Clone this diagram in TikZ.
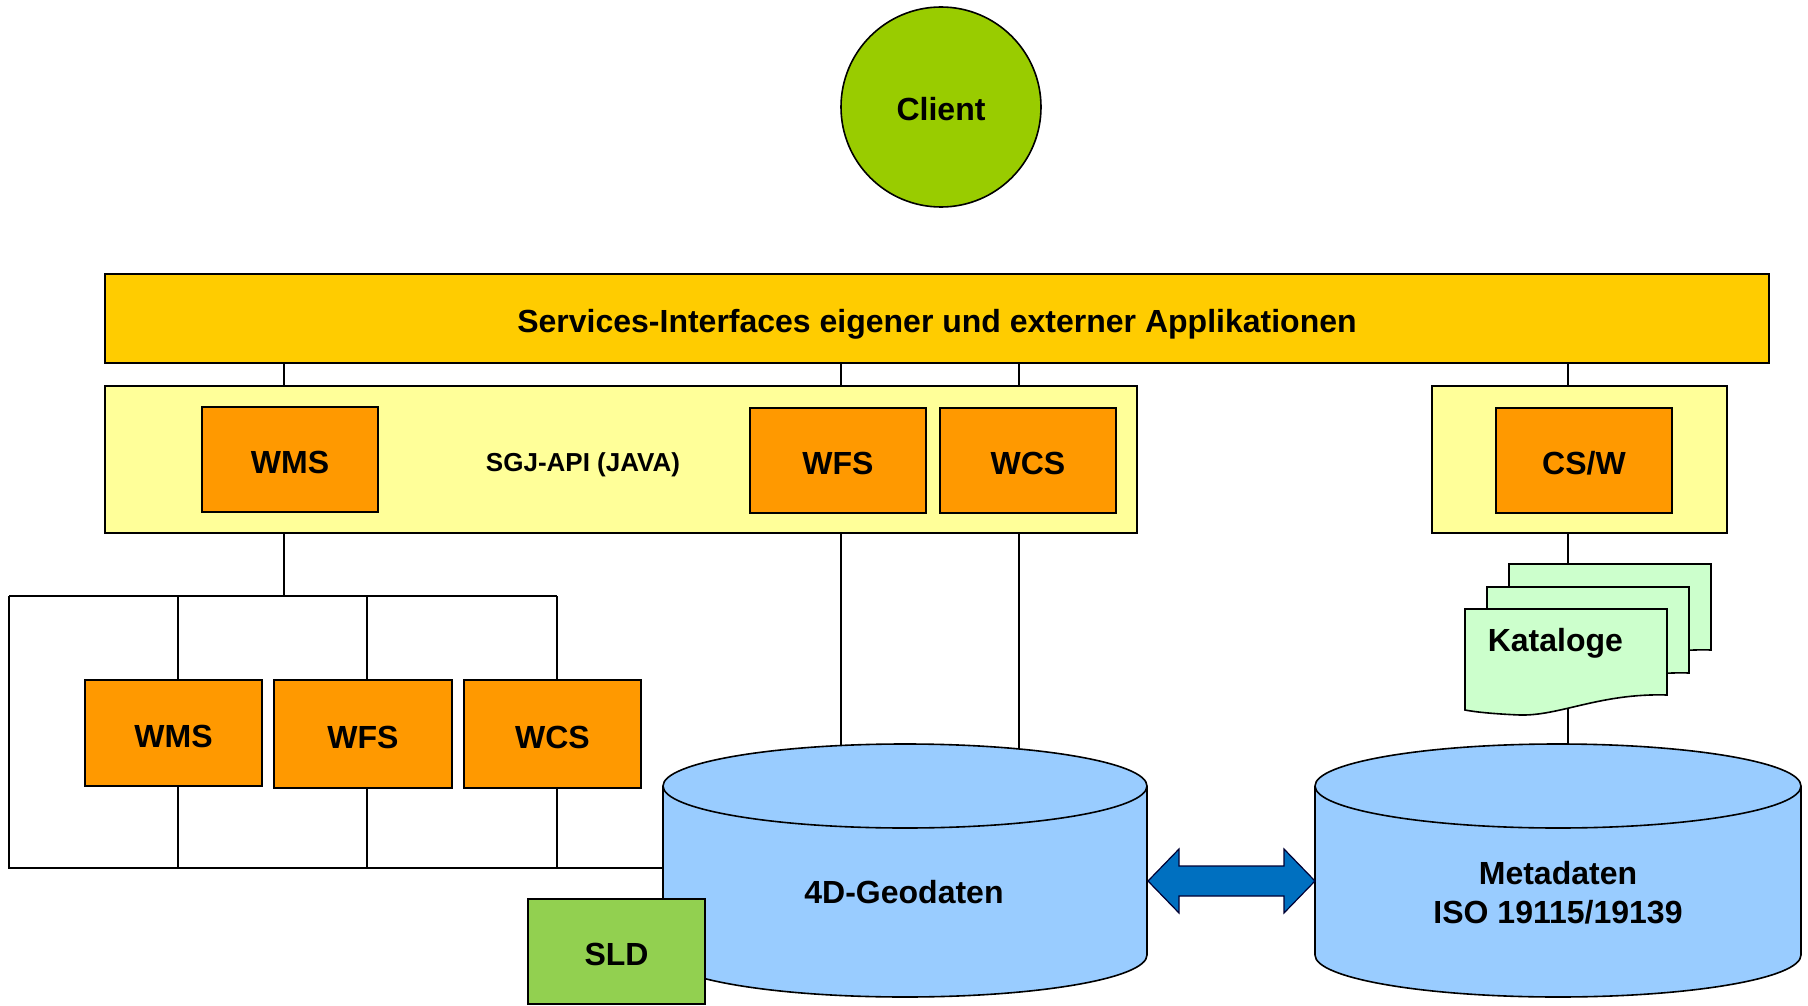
\documentclass[tikz,border=0pt]{standalone}
\usepackage{fontspec}
\setmainfont{Liberation Sans}
\usetikzlibrary{calc}
\definecolor{barcol}{HTML}{FFCC00}
\definecolor{apicol}{HTML}{FFFF99}
\definecolor{orcol}{HTML}{FF9900}
\definecolor{clientcol}{HTML}{99CC00}
\definecolor{cylcol}{HTML}{99CCFF}
\definecolor{sldcol}{HTML}{92D050}
\definecolor{katcol}{HTML}{CCFFCC}
\definecolor{arrcol}{HTML}{0070C0}
\begin{document}
\begin{tikzpicture}[x=1pt,y=-1pt,line width=1.6pt,
  box/.style={draw=black,rectangle,inner sep=0pt,text height=28pt,text depth=0pt,
    font=\fontsize{32}{38}\bfseries\selectfont},
  svc/.style={box,fill=orcol,minimum width=176pt,minimum height=105pt},
  cyl/.style={fill=cylcol},
  doc/.style={draw=black,fill=katcol},
  lbl/.style={inner sep=0pt,align=center,font=\fontsize{32}{39}\bfseries\selectfont}]
\useasboundingbox (0,0) rectangle (1808,1006);

% client
\node[circle,draw=black,fill=clientcol,minimum size=200pt,inner sep=0pt,
  text height=28pt,text depth=0pt,
  font=\fontsize{32}{38}\bfseries\selectfont] (client) at (941,107) {Client};

% top bar
\node[box,fill=barcol,minimum width=1664pt,minimum height=89pt] (bar) at (937,318.5)
  {Services-Interfaces eigener und externer Applikationen};

% API box
\node[box,fill=apicol,minimum width=1032pt,minimum height=147pt] (sgj) at (621,459.5) {};
\node[lbl,font=\fontsize{26}{30}\bfseries\selectfont] (sgjlbl) at (583,464.5) {SGJ-API (JAVA)};
\node[svc] (wms1) at (290,459.5) {WMS};
\node[svc] (wfs1) at (838,460.5) {WFS};
\node[svc] (wcs1) at (1028,460.5) {WCS};

% CS/W box
\node[box,fill=apicol,minimum width=295pt,minimum height=147pt] (cswo) at (1579.5,459.5) {};
\node[svc] (csw) at (1584,460.5) {CS/W};

% lower services
\node[svc,minimum width=177pt,minimum height=106pt] (wms2) at (173.5,733) {WMS};
\node[svc,minimum width=178pt,minimum height=108pt] (wfs2) at (363,734) {WFS};
\node[svc,minimum width=177pt,minimum height=108pt] (wcs2) at (552.5,734) {WCS};

% column coordinates
\coordinate (xa) at (284,0);
\coordinate (xb) at (841,0);
\coordinate (xc) at (1019,0);
\coordinate (xd) at (1568,0);
\coordinate (t1) at (178,0);
\coordinate (t2) at (367,0);
\coordinate (t3) at (557,0);
\coordinate (treeL) at (9,596);
\coordinate (treeR) at (557,596);
\coordinate (botL) at (9,868);
\coordinate (geoW) at (663,868);
\coordinate (geoTopB) at (841,745.5);
\coordinate (geoTopC) at (1019,749);
\coordinate (metaTop) at (1568,745);
\coordinate (katTop) at (1568,564);
\coordinate (katBot) at (1568,708);

% connectors bar -> boxes
\draw (xa |- bar.south) -- (xa |- sgj.north);
\draw (xb |- bar.south) -- (xb |- sgj.north);
\draw (xc |- bar.south) -- (xc |- sgj.north);
\draw (xd |- bar.south) -- (xd |- cswo.north);

% tree
\draw (xa |- sgj.south) -- (xa |- treeL);
\draw (treeL) -- (treeR);
\draw (treeL) -- (botL) -- (geoW);
\draw (t1 |- treeL) -- (t1 |- wms2.north);
\draw (t2 |- treeL) -- (t2 |- wfs2.north);
\draw (t3 |- treeL) -- (t3 |- wcs2.north);
\draw (t1 |- wms2.south) -- (t1 |- botL);
\draw (t2 |- wfs2.south) -- (t2 |- botL);
\draw (t3 |- wcs2.south) -- (t3 |- botL);

% to cylinder
\draw (xb |- sgj.south) -- (geoTopB);
\draw (xc |- sgj.south) -- (geoTopC);

% Kataloge connectors
\draw (xd |- cswo.south) -- (katTop);
\draw (katBot) -- (metaTop);

% Kataloge documents
\foreach \dx/\dy in {44/-45,22/-22,0/0}{
  \begin{scope}[shift={(\dx,\dy)}]
  \draw[doc] (1465,609) -- (1667,609) -- (1667,695)
    .. controls (1600,693) and (1560,716) .. (1520,715)
    .. controls (1495,714) and (1475,712) .. (1465,710) -- cycle;
  \end{scope}
}
\node[lbl,anchor=west] (kat) at (1487,643.5) {Kataloge};

% 4D cylinder
\filldraw[cyl] (905,955) ellipse[x radius=242,y radius=42];
\fill[cyl] (663,786) rectangle (1147,955);
\draw (663,786) -- (663,955);
\draw (1147,786) -- (1147,955);
\filldraw[cyl] (905,786) ellipse[x radius=242,y radius=42];
\node[lbl] (geo) at (904,892) {4D-Geodaten};

% Metadaten cylinder
\filldraw[cyl] (1558,955) ellipse[x radius=243,y radius=42];
\fill[cyl] (1315,786) rectangle (1801,955);
\draw (1315,786) -- (1315,955);
\draw (1801,786) -- (1801,955);
\filldraw[cyl] (1558,786) ellipse[x radius=243,y radius=42];
\node[lbl] (meta) at (1558,893) {Metadaten\\ISO 19115/19139};

% SLD
\node[box,fill=sldcol,minimum width=177pt,minimum height=105pt] (sld) at (616.5,951.5) {SLD};

% double arrow
\coordinate (geoE) at (1148,881);
\coordinate (metaW) at (1315,881);
\draw[fill=arrcol,draw=black!80!blue,line width=1.2pt]
  (geoE) -- ($(geoE)+(31,-32)$) -- ($(geoE)+(31,-15)$) -- ($(metaW)+(-31,-15)$)
  -- ($(metaW)+(-31,-32)$) -- (metaW) -- ($(metaW)+(-31,32)$) -- ($(metaW)+(-31,15)$)
  -- ($(geoE)+(31,15)$) -- ($(geoE)+(31,32)$) -- cycle;
\end{tikzpicture}
\end{document}
